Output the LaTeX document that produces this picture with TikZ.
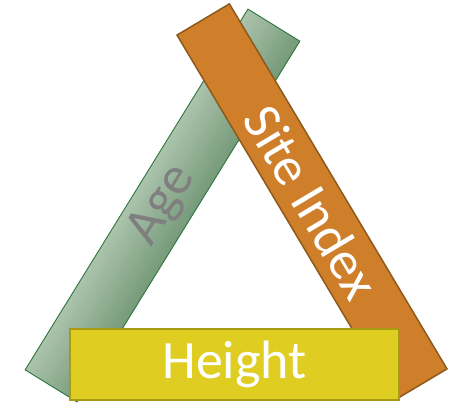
\documentclass[tikz,border=0pt]{standalone}
\usepackage{fontspec}
\setmainfont{Carlito}
\usepackage{tikz}
\usetikzlibrary{positioning,calc}

\definecolor{agelight}{HTML}{ACC3AC}
\definecolor{agedark}{HTML}{769A7A}
\definecolor{ageline}{HTML}{2F7A40}
\definecolor{agetext}{HTML}{7F7F7F}
\definecolor{sitefill}{HTML}{CF7F2A}
\definecolor{siteline}{HTML}{8C5A1C}
\definecolor{heightfill}{HTML}{DFCE21}
\definecolor{heightline}{HTML}{A89A12}

\begin{document}
\begin{tikzpicture}[x=1pt,y=1pt,
  bartext/.style={font=\fontsize{54}{60}\selectfont,inner sep=0pt,
    rectangle,minimum height=61pt},
  agebar/.style={bartext,draw=ageline,line width=0.9pt,text=agetext},
  sitebar/.style={bartext,draw=siteline,line width=1.5pt,
    fill=sitefill,text=white},
  heightbox/.style={bartext,draw=heightline,line width=2.5pt,
    fill=heightfill,text=white}]
  \useasboundingbox (0,0) rectangle (454,402);
  % shading across the age bar
  \fill[top color=agelight,bottom color=agedark,
    transform canvas={shift={(162.5,196.5)},rotate=58.3}]
    (-212,-30.5) rectangle (212,30.5);
  % the three bars
  \node[agebar,rotate=58.3,minimum width=424pt] (age) at (162.5,196.5) {Age};
  \node[sitebar,rotate=-59.2,minimum width=425pt] (site) at (312,200) {Site Index};
  \node[heightbox,minimum width=329pt,minimum height=71pt] (height) at (234.5,37.5) {Height};
\end{tikzpicture}
\end{document}
